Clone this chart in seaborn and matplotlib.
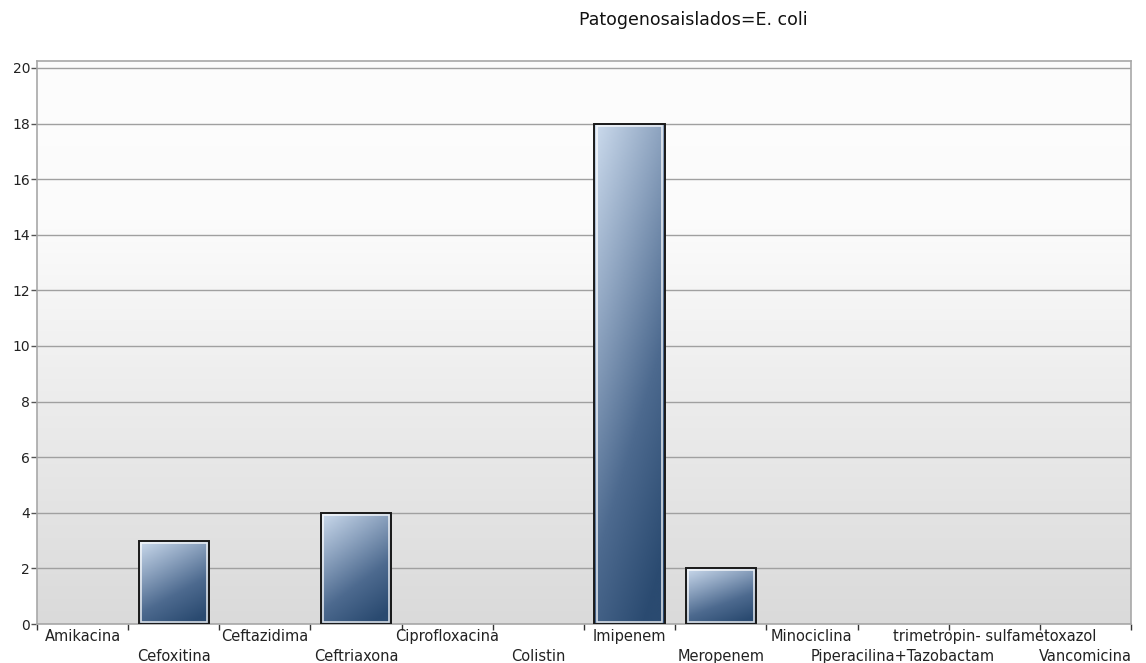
import numpy as np
import pandas as pd
import seaborn as sns
import matplotlib.pyplot as plt
import matplotlib.transforms as mtransforms
from matplotlib.colors import LinearSegmentedColormap
from matplotlib.patches import Rectangle

# data
drugs = ['Amikacina', 'Cefoxitina', 'Ceftazidima', 'Ceftriaxona', 'Ciprofloxacina',
         'Colistin', 'Imipenem', 'Meropenem', 'Minociclina',
         'Piperacilina+Tazobactam', 'trimetropin- sulfametoxazol', 'Vancomicina']
counts = [0, 3, 0, 4, 0, 0, 18, 2, 0, 0, 0, 0]
y_ticks = [0, 2, 4, 6, 8, 10, 12, 14, 16, 18, 20]

df = pd.DataFrame({'Antibiotico': drugs, 'Cantidad': counts})

sns.set_style('white')
plt.rcParams['font.family'] = ['DejaVu Sans']

fig = plt.figure(figsize=(11.46, 6.63), dpi=100)
ax = fig.add_axes([37 / 1146, 39 / 663, (1131 - 37) / 1146, (624 - 61) / 663])

ax = sns.barplot(data=df, x='Antibiotico', y='Cantidad', width=0.77,
                 color='#4a6a90', ax=ax, zorder=2)

xmin, xmax = -0.5, len(drugs) - 0.5
ymin, ymax = 0, 20.25

# background gradient (white top -> light gray bottom)
pos = np.linspace(0, 1, 256)
shade = np.interp(pos, [0, 0.3, 0.5, 1.0], [253, 251, 241, 218]) / 255
bg = np.tile(shade[:, None, None], (1, 2, 3))
ax.imshow(bg, extent=[xmin, xmax, ymin, ymax], aspect='auto', zorder=-1,
          origin='upper', interpolation='bilinear')

# bar gradient: light at top-left, dark navy at bottom-right
bar_cmap = LinearSegmentedColormap.from_list('bar', ['#cddcee', '#8ea4c0', '#4d6a8f', '#2a4a70'])
u = np.linspace(0, 1, 100)[None, :]
v = np.linspace(0, 1, 300)[:, None]
grad = np.clip(0.35 * u + 0.75 * v, 0, 1)

for p in ax.patches:
    h = p.get_height()
    if h <= 0:
        p.set_visible(False)
        continue
    x0 = p.get_x()
    w = p.get_width()
    p.set_facecolor('none')
    p.set_edgecolor('#1a1a1a')
    p.set_linewidth(1.4)
    p.set_zorder(4)
    im = ax.imshow(grad, cmap=bar_cmap, extent=[x0, x0 + w, 0, h], origin='upper',
                   aspect='auto', zorder=3, interpolation='bilinear')
    im.set_clip_path(p)
    ax.add_patch(Rectangle((x0 + 0.025, 0.07), w - 0.05, h - 0.14, fill=False,
                           edgecolor='white', linewidth=1.2, alpha=0.8, zorder=4))

ax.set_xlim(xmin, xmax)
ax.set_ylim(ymin, ymax)

# grid & spines
ax.set_yticks(y_ticks)
ax.yaxis.grid(True, color='#a0a0a0', linewidth=1)
ax.set_axisbelow(True)
for s in ax.spines.values():
    s.set_color('#a8a8a8')
    s.set_linewidth(1.2)

ax.tick_params(axis='y', length=4, width=1, color='#555555', labelsize=10,
               labelcolor='#222222', left=True, pad=1)

# category boundary ticks, staggered labels at the category centres
ax.set_xticks(np.arange(len(drugs) + 1) - 0.5)
ax.set_xticklabels([])
ax.tick_params(axis='x', which='major', length=4, width=1, color='#333333', bottom=True)
trans = mtransforms.blended_transform_factory(ax.transData, ax.transAxes)
for i, d in enumerate(drugs):
    ypos = -0.023 if i % 2 == 0 else -0.057
    ax.text(i, ypos, d, transform=trans, ha='center', va='center',
            fontsize=10.5, color='#222222')

ax.set_xlabel('')
ax.set_ylabel('')

fig.text(693 / 1146, 1 - 20 / 663, 'Patogenosaislados=E. coli', ha='center', va='center',
         fontsize=12.5, color='#111111')

fig.savefig('out.png', dpi=100, facecolor='white')
